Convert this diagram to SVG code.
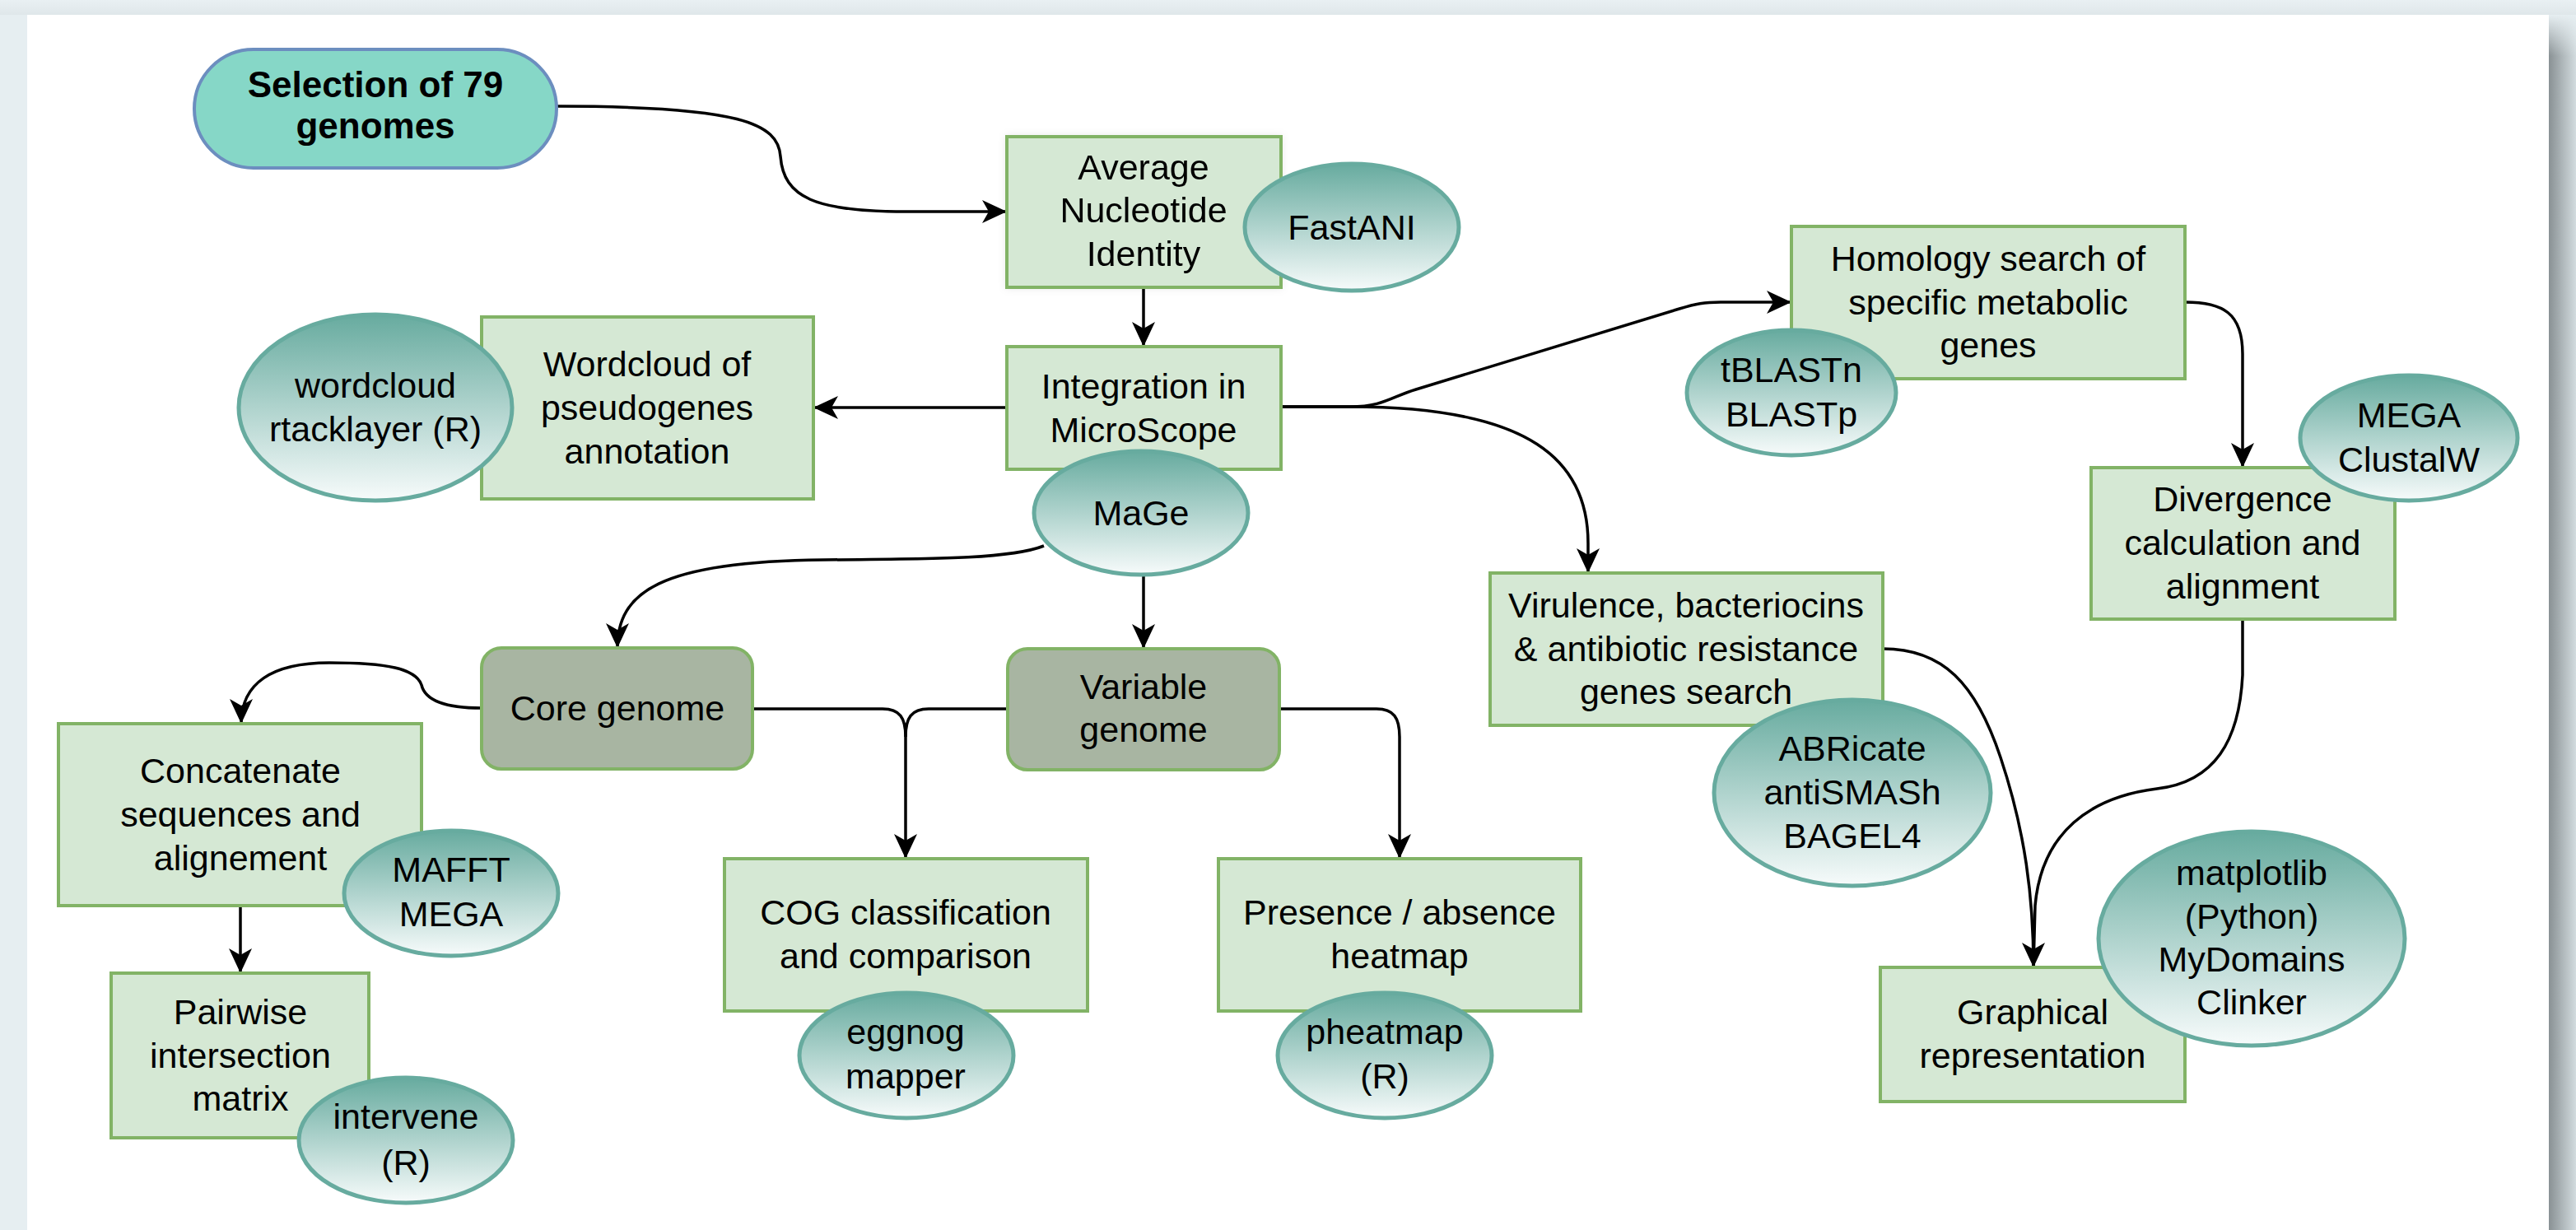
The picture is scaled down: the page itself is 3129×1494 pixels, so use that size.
<svg xmlns="http://www.w3.org/2000/svg" width="3129" height="1494" viewBox="0 0 3129 1494">
<style>
  text { font-family: "Liberation Sans", Arial, sans-serif; font-size: 43px; fill: #000; text-anchor: middle; }
  .bold { font-weight: bold; font-size: 44px; }
  .box { fill: #d5e8d4; stroke: #82b366; stroke-width: 4; }
  .dark { fill: #a8b5a2; stroke: #82b366; stroke-width: 4; }
  .tool { fill: url(#tealGrad); stroke: #67ab9f; stroke-width: 5; }
  .start { fill: #86d7c7; stroke: #6c8ebf; stroke-width: 4; }
  .edge { fill: none; stroke: #000; stroke-width: 3.5; }
</style>
<defs>
  <linearGradient id="tealGrad" x1="0" y1="0" x2="0" y2="1">
    <stop offset="0" stop-color="#67ab9f"/>
    <stop offset="1" stop-color="#f7fbfb"/>
  </linearGradient>
  <linearGradient id="rightShadow" x1="0" y1="0" x2="1" y2="0">
    <stop offset="0" stop-color="#899194"/>
    <stop offset="1" stop-color="#d3dcdf"/>
  </linearGradient>
  <linearGradient id="shadowTop" x1="0" y1="0" x2="0" y2="1">
    <stop offset="0" stop-color="#e6eef1" stop-opacity="1"/>
    <stop offset="1" stop-color="#e6eef1" stop-opacity="0"/>
  </linearGradient>
  <linearGradient id="topBand" x1="0" y1="0" x2="0" y2="1">
    <stop offset="0" stop-color="#e9f0f3"/>
    <stop offset="1" stop-color="#dfe7ea"/>
  </linearGradient>
  <filter id="soft" x="-10%" y="-10%" width="120%" height="120%">
    <feDropShadow dx="0" dy="0" stdDeviation="5" flood-color="#000" flood-opacity="0.08"/>
  </filter>
  <marker id="arrow" markerUnits="userSpaceOnUse" markerWidth="34" markerHeight="34" viewBox="-32 -16 34 32" refX="0" refY="0" orient="auto">
    <path d="M0,0 L-30,-14 L-22,0 L-30,14 Z" fill="#000"/>
  </marker>
</defs>

<!-- background -->
<rect x="0" y="0" width="3129" height="1494" fill="#e6eef1"/>
<rect x="0" y="0" width="3129" height="18" fill="url(#topBand)"/>
<rect x="3096" y="18" width="33" height="1476" fill="url(#rightShadow)"/>
<rect x="3096" y="18" width="33" height="50" fill="url(#shadowTop)"/>
<rect x="33" y="18" width="3063" height="1476" fill="#ffffff"/>

<g id="connectors">
  <path class="edge" d="M676,129 C900,129 945,150 948,190 C952,240 990,257 1100,257 L1223,257" marker-end="url(#arrow)"/>
  <path class="edge" d="M1389,349 L1389,421" marker-end="url(#arrow)"/>
  <path class="edge" d="M1223,495 L988,495" marker-end="url(#arrow)"/>
  <path class="edge" d="M1556,494 L1640,494 C1680,494 1690,482 1720,473 L2040,375 C2060,369 2070,367 2090,367 L2176,367" marker-end="url(#arrow)"/>
  <path class="edge" d="M1556,494 L1640,494 C1860,494 1929,560 1929,660 L1929,696" marker-end="url(#arrow)"/>
  <path class="edge" d="M1268,663 C1230,678 1150,679 1000,680 C800,682 750,720 750,787" marker-end="url(#arrow)"/>
  <path class="edge" d="M1389,700 L1389,788" marker-end="url(#arrow)"/>
  <path class="edge" d="M585,860 C530,860 515,845 512,832 C505,812 470,805 400,805 C330,805 293,830 293,879" marker-end="url(#arrow)"/>
  <path class="edge" d="M292,1100 L292,1182" marker-end="url(#arrow)"/>
  <path class="edge" d="M914,861 L1072,861 C1093,861 1100,872 1100,895 L1100,1043" marker-end="url(#arrow)"/>
  <path class="edge" d="M1224,861 L1128,861 C1107,861 1100,872 1100,895"/>
  <path class="edge" d="M1554,861 L1672,861 C1693,861 1700,872 1700,895 L1700,1043" marker-end="url(#arrow)"/>
  <path class="edge" d="M2654,367 C2700,367 2724,380 2724,430 L2724,568" marker-end="url(#arrow)"/>
  <path class="edge" d="M2287,788 C2360,788 2400,830 2430,920 C2460,1010 2470,1090 2470,1175" marker-end="url(#arrow)"/>
  <path class="edge" d="M2724,752 L2724,820 C2720,900 2690,950 2620,958 C2540,968 2480,1010 2472,1100 L2470,1175"/>
</g>

<g id="node-selection">
  <rect class="start" x="236" y="60" width="440" height="144" rx="72" ry="72"/>
  <text class="bold" x="456" y="118">Selection of 79</text>
  <text class="bold" x="456" y="168">genomes</text>
</g>

<g id="node-ani" filter="url(#soft)">
  <rect class="box" x="1223" y="166" width="333" height="183"/>
  <text x="1389" y="218">Average</text>
  <text x="1389" y="270">Nucleotide</text>
  <text x="1389" y="323">Identity</text>
</g>
<g id="tool-fastani">
  <ellipse class="tool" cx="1642" cy="276" rx="130" ry="77"/>
  <text x="1642" y="291">FastANI</text>
</g>

<g id="node-integration">
  <rect class="box" x="1223" y="421" width="333" height="149"/>
  <text x="1389" y="484">Integration in</text>
  <text x="1389" y="537">MicroScope</text>
</g>
<g id="tool-mage">
  <ellipse class="tool" cx="1386" cy="623" rx="130" ry="75"/>
  <text x="1386" y="638">MaGe</text>
</g>

<g id="node-wordcloud">
  <rect class="box" x="585" y="385" width="403" height="221"/>
  <text x="786" y="457">Wordcloud of</text>
  <text x="786" y="510">pseudogenes</text>
  <text x="786" y="563">annotation</text>
</g>
<g id="tool-wordcloud">
  <ellipse class="tool" cx="456" cy="495" rx="166" ry="113"/>
  <text x="456" y="483">wordcloud</text>
  <text x="456" y="536">rtacklayer (R)</text>
</g>

<g id="node-core">
  <rect class="dark" x="585" y="787" width="329" height="147" rx="24" ry="24"/>
  <text x="750" y="875">Core genome</text>
</g>

<g id="node-variable">
  <rect class="dark" x="1224" y="788" width="330" height="147" rx="24" ry="24"/>
  <text x="1389" y="849">Variable</text>
  <text x="1389" y="901">genome</text>
</g>

<g id="node-concatenate">
  <rect class="box" x="71" y="879" width="441" height="221"/>
  <text x="292" y="951">Concatenate</text>
  <text x="292" y="1004">sequences and</text>
  <text x="292" y="1057">alignement</text>
</g>
<g id="tool-mafft">
  <ellipse class="tool" cx="548" cy="1085" rx="130" ry="76"/>
  <text x="548" y="1071">MAFFT</text>
  <text x="548" y="1125">MEGA</text>
</g>

<g id="node-pairwise">
  <rect class="box" x="135" y="1182" width="313" height="200"/>
  <text x="292" y="1244">Pairwise</text>
  <text x="292" y="1297">intersection</text>
  <text x="292" y="1349">matrix</text>
</g>
<g id="tool-intervene">
  <ellipse class="tool" cx="493" cy="1385" rx="130" ry="76"/>
  <text x="493" y="1371">intervene</text>
  <text x="493" y="1427">(R)</text>
</g>

<g id="node-cog">
  <rect class="box" x="880" y="1043" width="441" height="185"/>
  <text x="1100" y="1123">COG classification</text>
  <text x="1100" y="1176">and comparison</text>
</g>
<g id="tool-eggnog">
  <ellipse class="tool" cx="1101" cy="1282" rx="130" ry="76"/>
  <text x="1100" y="1268">eggnog</text>
  <text x="1100" y="1322">mapper</text>
</g>

<g id="node-presence">
  <rect class="box" x="1480" y="1043" width="440" height="185"/>
  <text x="1700" y="1123">Presence / absence</text>
  <text x="1700" y="1176">heatmap</text>
</g>
<g id="tool-pheatmap">
  <ellipse class="tool" cx="1682" cy="1282" rx="130" ry="76"/>
  <text x="1682" y="1268">pheatmap</text>
  <text x="1682" y="1322">(R)</text>
</g>

<g id="node-homology">
  <rect class="box" x="2176" y="275" width="478" height="185"/>
  <text x="2415" y="329">Homology search of</text>
  <text x="2415" y="382">specific metabolic</text>
  <text x="2415" y="434">genes</text>
</g>
<g id="tool-blast">
  <ellipse class="tool" cx="2176" cy="477" rx="127" ry="76"/>
  <text x="2176" y="464">tBLASTn</text>
  <text x="2176" y="518">BLASTp</text>
</g>

<g id="node-divergence">
  <rect class="box" x="2540" y="568" width="369" height="184"/>
  <text x="2724" y="621">Divergence</text>
  <text x="2724" y="674">calculation and</text>
  <text x="2724" y="727">alignment</text>
</g>
<g id="tool-mega">
  <ellipse class="tool" cx="2926" cy="532" rx="132" ry="76"/>
  <text x="2926" y="519">MEGA</text>
  <text x="2926" y="573">ClustalW</text>
</g>

<g id="node-virulence">
  <rect class="box" x="1810" y="696" width="477" height="185"/>
  <text x="2048" y="750">Virulence, bacteriocins</text>
  <text x="2048" y="803">&amp; antibiotic resistance</text>
  <text x="2048" y="855">genes search</text>
</g>
<g id="tool-abricate">
  <ellipse class="tool" cx="2250" cy="963" rx="168" ry="113"/>
  <text x="2250" y="924">ABRicate</text>
  <text x="2250" y="977">antiSMASh</text>
  <text x="2250" y="1030">BAGEL4</text>
</g>

<g id="node-graphical">
  <rect class="box" x="2284" y="1175" width="370" height="163"/>
  <text x="2469" y="1244">Graphical</text>
  <text x="2469" y="1297">representation</text>
</g>
<g id="tool-matplotlib">
  <ellipse class="tool" cx="2735" cy="1140" rx="186" ry="130"/>
  <text x="2735" y="1075">matplotlib</text>
  <text x="2735" y="1128">(Python)</text>
  <text x="2735" y="1180">MyDomains</text>
  <text x="2735" y="1232">Clinker</text>
</g>
</svg>
